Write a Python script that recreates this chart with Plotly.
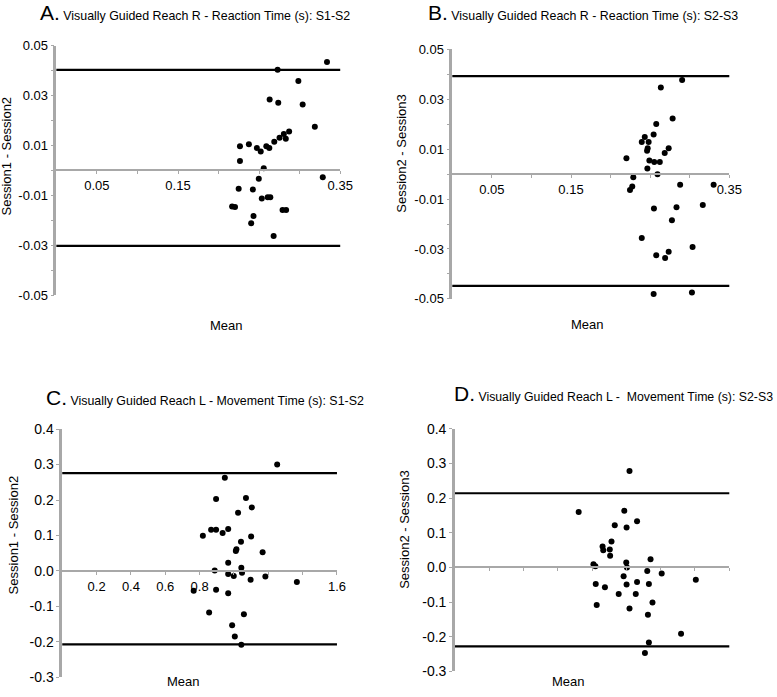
import plotly.graph_objects as go

# ---------------- data ----------------
a_mean = [0.3337, 0.2728, 0.2984, 0.2630, 0.2736, 0.3037, 0.3187, 0.2870, 0.2805, 0.2752,
          0.2829, 0.2687, 0.2264, 0.2374, 0.2472, 0.2520, 0.2589, 0.2626, 0.2264, 0.2557,
          0.3285, 0.2496, 0.2248, 0.2423, 0.2533, 0.2606, 0.2638, 0.2167, 0.2203, 0.2789,
          0.2833, 0.2431, 0.2402, 0.2679]
a_diff = [0.0434, 0.0403, 0.0358, 0.0284, 0.0271, 0.0264, 0.0175, 0.0156, 0.0146, 0.0131,
          0.0127, 0.0115, 0.0097, 0.0105, 0.0090, 0.0076, 0.0097, 0.0090, 0.0038, 0.0009,
          -0.0027, -0.0033, -0.0073, -0.0076, -0.0112, -0.0107, -0.0107, -0.0144, -0.0146, -0.0158,
          -0.0158, -0.0183, -0.0212, -0.0263]
a_limits = [0.0403, -0.0302]

b_mean = [0.2904, 0.2635, 0.2784, 0.2577, 0.2544, 0.2432, 0.2394, 0.2481, 0.2469, 0.2461,
          0.2734, 0.2684, 0.2200, 0.2490, 0.2552, 0.2622, 0.2465, 0.2593, 0.2287, 0.2879,
          0.3302, 0.2274, 0.2245, 0.3165, 0.2833, 0.2548, 0.2775, 0.2394, 0.3036, 0.2734,
          0.2577, 0.2689, 0.2544, 0.3028]
b_diff = [0.0377, 0.0347, 0.0223, 0.0201, 0.0159, 0.0149, 0.0129, 0.0129, 0.0104, 0.0094,
          0.0104, 0.0085, 0.0064, 0.0054, 0.0048, 0.0048, 0.0022, -0.0001, -0.0013, -0.0043,
          -0.0043, -0.0050, -0.0064, -0.0124, -0.0133, -0.0138, -0.0185, -0.0256, -0.0292, -0.0311,
          -0.0325, -0.0336, -0.0480, -0.0474]
b_limits = [0.0393, -0.0448]

c_mean = [1.2517, 0.947, 0.896, 1.070, 1.104, 1.024, 0.819, 0.867, 0.896, 0.934,
          0.9665, 1.100, 1.041, 1.011, 1.0144, 1.167, 0.9665, 0.888, 1.043, 1.047,
          0.9665, 0.999, 1.183, 1.097, 1.3665, 0.7655, 0.896, 0.9665, 0.8555, 1.058,
          0.9895, 1.005, 1.043]
c_diff = [0.300, 0.263, 0.203, 0.2055, 0.179, 0.164, 0.099, 0.116, 0.116, 0.107,
          0.118, 0.097, 0.082, 0.056, 0.061, 0.053, 0.023, 0.001, 0.009, -0.0055,
          -0.009, -0.014, -0.0156, -0.025, -0.031, -0.056, -0.053, -0.063, -0.117, -0.122,
          -0.153, -0.185, -0.208]
c_limits = [0.276, -0.207]

d_mean = [1.018, 0.7215, 0.9876, 1.062, 0.932, 1.001, 0.913, 0.861, 0.865, 0.903,
          0.905, 0.8077, 0.819, 0.999, 1.003, 1.1407, 1.1215, 1.2057, 1.4048, 0.9837,
          1.062, 0.821, 1.001, 1.1311, 0.8746, 0.955, 1.0545, 1.152, 0.8268, 1.018,
          1.1254, 1.3187, 1.131, 1.108]
d_diff = [0.2785, 0.160, 0.1636, 0.1336, 0.1215, 0.115, 0.0748, 0.0607, 0.0495, 0.0514,
          0.0336, 0.0093, 0.0037, 0.014, 0.000, 0.0234, -0.0103, -0.0178, -0.0355, -0.0252,
          -0.042, -0.0477, -0.0495, -0.0477, -0.057, -0.0766, -0.0766, -0.101, -0.1086, -0.1187,
          -0.1364, -0.1916, -0.2168, -0.2467]
d_limits = [0.214, -0.228]

titles = [
    ("A.", "Visually Guided Reach R - Reaction Time (s): S1-S2"),
    ("B.", "Visually Guided Reach R - Reaction Time (s): S2-S3"),
    ("C.", "Visually Guided Reach L - Movement Time (s): S1-S2"),
    ("D.", "Visually Guided Reach L -\u00a0\u00a0Movement Time (s): S2-S3"),
]
y_titles = ["Session1 - Session2", "Session2 - Session3", "Session1 - Session2", "Session2 - Session3"]
x_title = "Mean"

# tick values / labels
rt_x_ticks = [0.05, 0.10, 0.15, 0.20, 0.25, 0.30, 0.35]
rt_x_labels = ["0.05", "", "0.15", "", "", "", "0.35"]
rt_y_ticks = [-0.05, -0.04, -0.03, -0.02, -0.01, 0.0, 0.01, 0.02, 0.03, 0.04, 0.05]
rt_y_labels = ["-0.05", "", "-0.03", "", "-0.01", "", "0.01", "", "0.03", "", "0.05"]
mt_x_ticks = [0.2, 0.4, 0.6, 0.8, 1.0, 1.2, 1.4, 1.6]
mt_x_labels_c = ["0.2", "0.4", "0.6", "0.8", "", "", "", "1.6"]
mt_x_labels_d = ["", "", "", "", "", "", "", ""]
mt_y_ticks = [-0.3, -0.2, -0.1, 0.0, 0.1, 0.2, 0.3, 0.4]
mt_y_labels = ["-0.3", "-0.2", "-0.1", "0.0", "0.1", "0.2", "0.3", "0.4"]

# ---------------- layout geometry (pixels) ----------------
W, H = 777, 697
FONT = "Liberation Sans, Arial, Helvetica, sans-serif"
AXIS_GREY = "#a8a8a8"

def fx(px):
    return px / W

def fy(py):
    return 1 - py / H

panels = [
    dict(x=(57.3, 346.0), y=(38.5, 294.0), xr=[0, 0.35], yr=[-0.05, 0.05],
         xt=rt_x_ticks, xl=rt_x_labels, yt=rt_y_ticks, yl=rt_y_labels,
         m=a_mean, d=a_diff, lim=a_limits, yfs=13, tfs=12.4,
         title_pos=(39, 5), ytitle_pos=(7, 151), mean_pos=(230, 325)),
    dict(x=(460.0, 741.7), y=(42.3, 297.7), xr=[0, 0.35], yr=[-0.05, 0.05],
         xt=rt_x_ticks, xl=rt_x_labels, yt=rt_y_ticks, yl=rt_y_labels,
         m=b_mean, d=b_diff, lim=b_limits, yfs=13, tfs=12.4,
         title_pos=(433, 5), ytitle_pos=(408, 149), mean_pos=(598, 324)),
    dict(x=(63.3, 342.7), y=(431.0, 685.0), xr=[0, 1.6], yr=[-0.3, 0.4],
         xt=mt_x_ticks, xl=mt_x_labels_c, yt=mt_y_ticks, yl=mt_y_labels,
         m=c_mean, d=c_diff, lim=c_limits, yfs=14, tfs=12.4,
         title_pos=(45, 399), ytitle_pos=(14, 539), mean_pos=(187, 689)),
    dict(x=(462.7, 741.7), y=(430.7, 679.0), xr=[0, 1.6], yr=[-0.3, 0.4],
         xt=mt_x_ticks, xl=mt_x_labels_d, yt=mt_y_ticks, yl=mt_y_labels,
         m=d_mean, d=d_diff, lim=d_limits, yfs=14, tfs=12.3,
         title_pos=(460, 395), ytitle_pos=(412, 534), mean_pos=(578, 689)),
]

fig = go.Figure()
annotations = []
shapes = []
layout_axes = {}

for i, p in enumerate(panels, start=1):
    sfx = "" if i == 1 else str(i)
    xname, yname = "x" + sfx, "y" + sfx
    xdom = [fx(p["x"][0]), fx(p["x"][1])]
    ydom = [fy(p["y"][1]), fy(p["y"][0])]
    y0, y1 = p["yr"]
    zero_pos = ydom[0] + (0 - y0) / (y1 - y0) * (ydom[1] - ydom[0])

    fig.add_trace(go.Scatter(
        x=p["m"], y=p["d"], mode="markers", xaxis=xname, yaxis=yname,
        marker=dict(color="black", size=6), showlegend=False, hoverinfo="x+y"))

    layout_axes["xaxis" + sfx] = dict(
        domain=xdom, range=p["xr"], anchor="free", position=zero_pos,
        showline=True, linecolor=AXIS_GREY, linewidth=2,
        tickmode="array", tickvals=p["xt"], ticktext=p["xl"],
        ticks="outside", ticklen=3, tickcolor=AXIS_GREY, tickwidth=1,
        showgrid=False, zeroline=False,
        tickfont=dict(family=FONT, size=13, color="black"))
    layout_axes["yaxis" + sfx] = dict(
        domain=ydom, range=p["yr"], anchor=xname,
        showline=True, linecolor=AXIS_GREY, linewidth=2.5,
        tickmode="array", tickvals=p["yt"], ticktext=p["yl"],
        ticks="outside", ticklen=3, tickcolor=AXIS_GREY, tickwidth=1,
        showgrid=False, zeroline=False,
        tickfont=dict(family=FONT, size=p["yfs"], color="black"))

    for v in p["lim"]:
        shapes.append(dict(type="line", xref=xname + " domain", x0=0, x1=1,
                           yref=yname, y0=v, y1=v,
                           line=dict(color="black", width=2.2), layer="below"))

    letter, txt = titles[i - 1]
    annotations.append(dict(
        xref="paper", yref="paper", x=fx(p["title_pos"][0]), y=fy(p["title_pos"][1]),
        xanchor="left", yanchor="middle", showarrow=False,
        text="<span style='font-size:21px'>" + letter + "</span> " + txt,
        font=dict(family=FONT, size=p["tfs"], color="black")))
    annotations.append(dict(
        xref="paper", yref="paper", x=fx(p["ytitle_pos"][0]), y=fy(p["ytitle_pos"][1]),
        xanchor="center", yanchor="middle", showarrow=False, textangle=-90,
        text=y_titles[i - 1], font=dict(family=FONT, size=13, color="black")))
    annotations.append(dict(
        xref="paper", yref="paper", x=fx(p["mean_pos"][0]), y=fy(p["mean_pos"][1]),
        xanchor="center", yanchor="middle", showarrow=False,
        text=x_title, font=dict(family=FONT, size=13, color="black")))

fig.update_layout(
    width=W, height=H, margin=dict(l=0, r=0, t=0, b=0),
    paper_bgcolor="white", plot_bgcolor="white",
    showlegend=False, annotations=annotations, shapes=shapes,
    font=dict(family=FONT, color="black"),
    **layout_axes)

fig.write_html("out.html", config={"displayModeBar": False},
               post_script="document.body.style.margin='0';document.body.style.overflow='hidden';")
